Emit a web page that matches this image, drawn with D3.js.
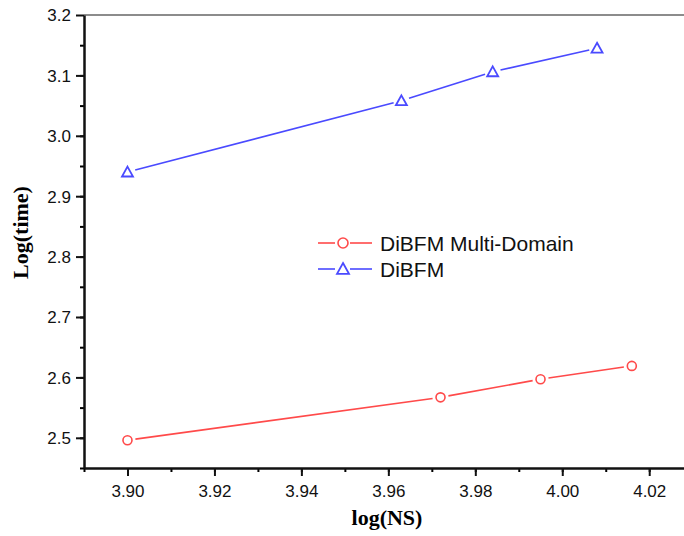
<!DOCTYPE html>
<html>
<head>
<meta charset="utf-8">
<script src="https://cdn.jsdelivr.net/npm/d3@7"></script>
<style>
  body { margin: 0; background: #fff; }
  svg { display: block; }
</style>
</head>
<body>
<div id="chart"></div>
<script>
    const WIDTH = 684;
    const HEIGHT = 536;

    // data
    const seriesNames = ["DiBFM Multi-Domain", "DiBFM"];
    const multiX = [3.900, 3.972, 3.995, 4.016];
    const multiY = [2.496, 2.567, 2.597, 2.619];
    const dibfmX = [3.900, 3.963, 3.984, 4.008];
    const dibfmY = [2.940, 3.058, 3.106, 3.145];
    const xTicks = [3.90, 3.92, 3.94, 3.96, 3.98, 4.00, 4.02];
    const yTicks = [2.5, 2.6, 2.7, 2.8, 2.9, 3.0, 3.1, 3.2];

    const COLOR = ["#ff4a4a", "#4a4aff"];
    const plotLeft = 84, plotRight = 684, plotTop = 15, plotBottom = 468;

    var x = d3.scaleLinear().domain([3.89, 4.028]).range([plotLeft, plotRight]);
    var y = d3.scaleLinear().domain([2.45, 3.2]).range([plotBottom, plotTop]);

    var svg = d3.select("#chart").append("svg")
        .attr("width", WIDTH)
        .attr("height", HEIGHT);

    // top frame line
    svg.append("line")
        .attr("x1", plotLeft).attr("x2", plotRight)
        .attr("y1", plotTop).attr("y2", plotTop)
        .style("stroke", "#666").attr("stroke-width", 1.5);

    // minor ticks first, then major axes on top
    var xMinor = d3.range(3.89, 4.03, 0.01).map(d => +d.toFixed(2));
    var yMinor = d3.range(2.45, 3.2, 0.05).map(d => +d.toFixed(2));

    svg.append("g")
        .attr("transform", "translate(0," + plotBottom + ")")
        .call(d3.axisBottom(x).tickValues(xMinor).tickSize(4).tickFormat(""))
        .call(g => g.select(".domain").remove())
        .selectAll("line").attr("stroke-width", 2);

    svg.append("g")
        .attr("transform", "translate(" + plotLeft + ",0)")
        .call(d3.axisLeft(y).tickValues(yMinor).tickSize(4).tickFormat(""))
        .call(g => g.select(".domain").remove())
        .selectAll("line").attr("stroke-width", 2);

    var xAxis = svg.append("g")
        .attr("transform", "translate(0," + plotBottom + ")")
        .call(d3.axisBottom(x).tickValues(xTicks).tickSize(8).tickSizeOuter(0)
            .tickFormat(d3.format(".2f")));
    var yAxis = svg.append("g")
        .attr("transform", "translate(" + plotLeft + ",0)")
        .call(d3.axisLeft(y).tickValues(yTicks).tickSize(8).tickSizeOuter(0)
            .tickFormat(d3.format(".1f")));

    [xAxis, yAxis].forEach(function (g) {
        g.select(".domain").attr("stroke-width", 2.5).attr("stroke", "#111");
        g.selectAll(".tick line").attr("stroke-width", 2).attr("stroke", "#111");
        g.selectAll("text")
            .attr("font-family", "Liberation Sans, Arial, sans-serif")
            .attr("font-size", 17)
            .attr("fill", "#111");
    });
    xAxis.selectAll("text").attr("dy", "1.05em");
    yAxis.selectAll("text").attr("x", -13).attr("dy", "0.35em");

    // axis titles
    svg.append("text")
        .attr("x", (plotLeft + plotRight) / 2 + 3)
        .attr("y", 525)
        .attr("text-anchor", "middle")
        .attr("font-family", "Liberation Serif, Times New Roman, serif")
        .attr("font-weight", "bold")
        .attr("font-size", 22)
        .text("log(NS)");

    svg.append("text")
        .attr("transform", "translate(28," + ((plotTop + plotBottom) / 2 - 9) + ") rotate(-90)")
        .attr("text-anchor", "middle")
        .attr("font-family", "Liberation Serif, Times New Roman, serif")
        .attr("font-weight", "bold")
        .attr("font-size", 22)
        .text("Log(time)");

    // segments with a small gap around each marker
    function drawSeries(xs, ys, color) {
        var GAP = 8;
        for (var i = 1; i < xs.length; i++) {
            var x1 = x(xs[i - 1]), y1 = y(ys[i - 1]);
            var x2 = x(xs[i]), y2 = y(ys[i]);
            var len = Math.hypot(x2 - x1, y2 - y1);
            var ux = (x2 - x1) / len, uy = (y2 - y1) / len;
            svg.append("line")
                .style("stroke", color)
                .attr("stroke-width", 1.6)
                .attr("x1", x1 + ux * GAP).attr("y1", y1 + uy * GAP)
                .attr("x2", x2 - ux * GAP).attr("y2", y2 - uy * GAP);
        }
    }

    function circleMark(cx, cy, r, color) {
        svg.append("circle")
            .attr("cx", cx).attr("cy", cy).attr("r", r)
            .attr("fill", "none").style("stroke", color).attr("stroke-width", 1.6);
    }
    function triangleMark(cx, cy, s, color) {
        var h = s * 0.9;
        svg.append("path")
            .attr("d", "M" + cx + "," + (cy - h * 0.55) +
                "L" + (cx + s / 2) + "," + (cy + h * 0.45) +
                "L" + (cx - s / 2) + "," + (cy + h * 0.45) + "Z")
            .attr("fill", "none").style("stroke", color).attr("stroke-width", 1.8);
    }

    drawSeries(multiX, multiY, COLOR[0]);
    drawSeries(dibfmX, dibfmY, COLOR[1]);
    multiX.forEach(function (d, i) { circleMark(x(d), y(multiY[i]), 4.5, COLOR[0]); });
    dibfmX.forEach(function (d, i) { triangleMark(x(d), y(dibfmY[i]), 11, COLOR[1]); });

    // legend
    var legendY = [243, 269];
    seriesNames.forEach(function (name, i) {
        svg.append("line")
            .style("stroke", COLOR[i]).attr("stroke-width", 1.6)
            .attr("x1", 318).attr("x2", 335)
            .attr("y1", legendY[i]).attr("y2", legendY[i]);
        svg.append("line")
            .style("stroke", COLOR[i]).attr("stroke-width", 1.6)
            .attr("x1", 350).attr("x2", 372)
            .attr("y1", legendY[i]).attr("y2", legendY[i]);
        if (i == 0) circleMark(343, legendY[i], 5, COLOR[i]);
        else triangleMark(343, legendY[i], 12, COLOR[i]);
        svg.append("text")
            .attr("x", 380)
            .attr("y", legendY[i] + 8)
            .attr("font-family", "Liberation Sans, Arial, sans-serif")
            .attr("font-size", 21)
            .attr("fill", "#111")
            .text(name);
    });
</script>
</body>
</html>
